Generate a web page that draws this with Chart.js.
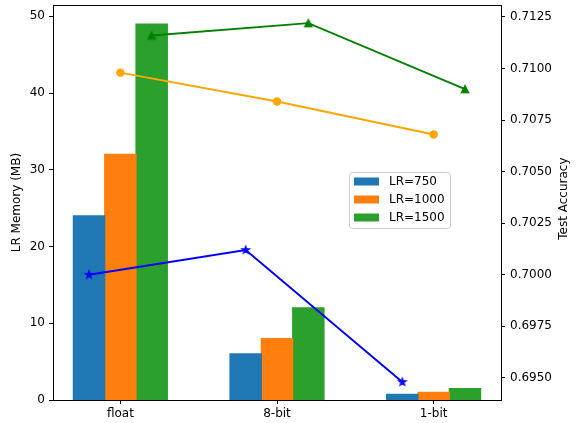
<!DOCTYPE html>
<html>
<head>
<meta charset="utf-8">
<script src="https://cdn.jsdelivr.net/npm/chart.js@4"></script>
<style>
  html, body { margin: 0; padding: 0; background: #fff; }
  #c { display: block; }
</style>
</head>
<body>
<canvas id="c" width="578" height="423"></canvas>
<script>
// Categories and series
const categories = ['float', '8-bit', '1-bit'];
const seriesNames = ['LR=750', 'LR=1000', 'LR=1500'];

// Memory footprint of the LR model (MB), bars
const memoryLR750 = [24, 6, 0.75];
const memoryLR1000 = [32, 8, 1];
const memoryLR1500 = [49, 12, 1.5];

// Test accuracy, lines on the right axis
const accuracyLR750 = [0.7000, 0.7012, 0.6948];
const accuracyLR1000 = [0.7098, 0.7084, 0.7068];
const accuracyLR1500 = [0.7116, 0.7122, 0.7090];

// Tick labels
const memoryTicks = [0, 10, 20, 30, 40, 50];
const accuracyTicks = [0.6950, 0.6975, 0.7000, 0.7025, 0.7050, 0.7075, 0.7100, 0.7125];

const barColors = ['#1f77b4', '#ff7f0e', '#2ca02c'];
const lineColors = ['#0000ff', '#ffa500', '#008000'];
const FONT = "'DejaVu Sans', sans-serif";

// bar geometry in category units (three bars per group)
const BAR_W = 0.2;
const GROUP_W = BAR_W * seriesNames.length;
const xMargin = 0.05 * (categories.length - 1 + GROUP_W);

const memorySeries = [memoryLR750, memoryLR1000, memoryLR1500];
const accuracySeries = [accuracyLR750, accuracyLR1000, accuracyLR1500];

const memMax = Math.max(...memorySeries.flat()) * 1.05;
const accAll = accuracySeries.flat();
const accLo = Math.min(...accAll), accHi = Math.max(...accAll);
const accPad = 0.05 * (accHi - accLo);

// filled marker images (star and upward triangle)
function markerImage(kind, color, r) {
  const size = Math.ceil(r * 2 + 4);
  const c = document.createElement('canvas');
  c.width = size; c.height = size;
  const g = c.getContext('2d');
  const cx = size / 2, cy = size / 2;
  g.beginPath();
  if (kind === 'star') {
    for (let k = 0; k < 10; k++) {
      const rr = k % 2 ? r * 0.381966 : r;
      const a = -Math.PI / 2 + k * Math.PI / 5;
      const px = cx + rr * Math.cos(a), py = cy + rr * Math.sin(a);
      if (k === 0) g.moveTo(px, py); else g.lineTo(px, py);
    }
  } else {
    g.moveTo(cx, cy - r);
    g.lineTo(cx - r, cy + r);
    g.lineTo(cx + r, cy + r);
  }
  g.closePath();
  g.fillStyle = color;
  g.fill();
  g.lineWidth = 1.2;
  g.strokeStyle = color;
  g.lineJoin = 'miter';
  g.stroke();
  return c;
}

const pointStyles = [
  markerImage('star', lineColors[0], 3.9),
  'circle',
  markerImage('triangle', lineColors[2], 3.75)
];

const lineDatasets = accuracySeries.map((vals, s) => ({
  type: 'line',
  label: 'acc ' + seriesNames[s],
  data: vals.map((v, i) => ({ x: i + (s - 1) * BAR_W, y: v })),
  xAxisID: 'x',
  yAxisID: 'y1',
  borderColor: lineColors[s],
  backgroundColor: lineColors[s],
  borderWidth: 1.9,
  tension: 0,
  fill: false,
  pointStyle: pointStyles[s],
  pointRadius: 3.6,
  pointBorderWidth: 1.2,
  pointBackgroundColor: lineColors[s],
  pointBorderColor: lineColors[s],
  order: 0
}));

const barDatasets = memorySeries.map((vals, s) => ({
  type: 'bar',
  label: seriesNames[s],
  data: vals.map((v, i) => ({ x: i, y: v })),
  xAxisID: 'x',
  yAxisID: 'y',
  backgroundColor: barColors[s],
  borderWidth: 0,
  inflateAmount: 0.6,
  categoryPercentage: GROUP_W,
  barPercentage: 1,
  order: 1
}));

const axisTickFont = { family: FONT, size: 12 };

// top spine, right-hand axis title and floating legend
const decorations = {
  id: 'decorations',
  afterDraw(chart) {
    const { ctx, chartArea } = chart;
    ctx.save();
    ctx.strokeStyle = '#000';
    ctx.lineWidth = 1;
    ctx.beginPath();
    ctx.moveTo(chartArea.left, Math.round(chartArea.top) + 0.5);
    ctx.lineTo(chartArea.right, Math.round(chartArea.top) + 0.5);
    ctx.stroke();

    // right axis title, reading bottom to top
    ctx.fillStyle = '#000';
    ctx.font = '12px ' + FONT;
    ctx.textAlign = 'center';
    ctx.textBaseline = 'middle';
    ctx.translate(564, (chartArea.top + chartArea.bottom) / 2 - 4);
    ctx.rotate(-Math.PI / 2);
    ctx.fillText('Test Accuracy', 0, 0);
    ctx.restore();

    // legend
    ctx.save();
    const bx = 349.5, by = 172.5, bw = 101, bh = 56, rad = 3;
    ctx.beginPath();
    ctx.moveTo(bx + rad, by);
    ctx.arcTo(bx + bw, by, bx + bw, by + bh, rad);
    ctx.arcTo(bx + bw, by + bh, bx, by + bh, rad);
    ctx.arcTo(bx, by + bh, bx, by, rad);
    ctx.arcTo(bx, by, bx + bw, by, rad);
    ctx.closePath();
    ctx.fillStyle = 'rgba(255,255,255,0.8)';
    ctx.fill();
    ctx.strokeStyle = '#cccccc';
    ctx.lineWidth = 1;
    ctx.stroke();
    ctx.font = '12px ' + FONT;
    ctx.textAlign = 'left';
    ctx.textBaseline = 'middle';
    seriesNames.forEach((name, s) => {
      const cy = 181.5 + s * 18;
      ctx.fillStyle = barColors[s];
      ctx.fillRect(354, cy - 4, 25, 8);
      ctx.fillStyle = '#000';
      ctx.fillText(name, 389, cy + 0.5);
    });
    ctx.restore();
  }
};

new Chart(document.getElementById('c'), {
  type: 'bar',
  data: { datasets: [...lineDatasets, ...barDatasets] },
  options: {
    responsive: false,
    devicePixelRatio: 1,
    animation: false,
    layout: { padding: { top: 3, left: 0, right: 0, bottom: 0 } },
    plugins: {
      legend: { display: false },
      tooltip: { enabled: false }
    },
    scales: {
      x: {
        type: 'linear',
        position: 'bottom',
        offset: false,
        min: -GROUP_W / 2 - xMargin,
        max: categories.length - 1 + GROUP_W / 2 + xMargin,
        afterBuildTicks: s => { s.ticks = categories.map((_, i) => ({ value: i })); },
        afterFit: s => { s.height = 23; s.paddingLeft = 0; s.paddingRight = 0; },
        ticks: {
          callback: v => categories[v],
          font: axisTickFont, color: '#000', padding: 3,
          maxRotation: 0, autoSkip: false
        },
        grid: { offset: false, drawOnChartArea: false, drawTicks: true, tickLength: 4, color: '#000' },
        border: { display: true, color: '#000', width: 1 }
      },
      y: {
        type: 'linear',
        position: 'left',
        min: 0,
        max: memMax,
        afterBuildTicks: s => { s.ticks = memoryTicks.map(v => ({ value: v })); },
        afterFit: s => { s.width = 53; s.paddingTop = 0; s.paddingBottom = 0; },
        ticks: { font: axisTickFont, color: '#000', padding: 4 },
        grid: { drawOnChartArea: false, drawTicks: true, tickLength: 4, color: '#000' },
        border: { display: true, color: '#000', width: 1 },
        title: {
          display: true, text: 'LR Memory (MB)', color: '#000',
          font: { family: FONT, size: 12 }, padding: { top: 10, bottom: 0 }
        }
      },
      y1: {
        type: 'linear',
        position: 'right',
        min: accLo - accPad,
        max: accHi + accPad,
        afterBuildTicks: s => { s.ticks = accuracyTicks.map(v => ({ value: v })); },
        afterFit: s => { s.width = 77; s.paddingTop = 0; s.paddingBottom = 0; },
        ticks: { font: axisTickFont, color: '#000', padding: 5, callback: v => v.toFixed(4) },
        grid: { drawOnChartArea: false, drawTicks: true, tickLength: 4, color: '#000' },
        border: { display: true, color: '#000', width: 1 }
      }
    }
  },
  plugins: [decorations]
});
</script>
</body>
</html>
